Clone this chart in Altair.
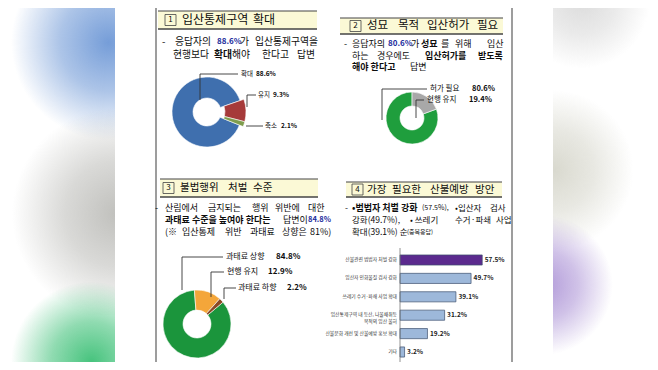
import math
import pandas as pd
import altair as alt

FONT = "Noto Sans CJK KR"

# ---------------- data ----------------
p1_cats = ["확대", "유지", "축소"]
p1_vals = [88.6, 9.3, 2.1]
p2_cats = ["허가 필요", "현행 유지"]
p2_vals = [80.6, 19.4]
p3_cats = ["과태료 상향", "현행 유지", "과태료 하향"]
p3_vals = [84.8, 12.9, 2.2]
p4_cats = [
    "산불관련 범법자 처벌 강화",
    "입산자 인화물질 검사 강화",
    "쓰레기 수거·파쇄 사업 확대",
    "입산통제구역 내 등산, 나물채취등\n목적의 입산 불허",
    "산불문화 개선 및 산불예방 홍보 확대",
    "기타",
]
p4_vals = [57.5, 49.7, 39.1, 31.2, 19.2, 3.2]

# ---------------- styles ----------------
p1_colors = ["#3f6fae", "#a63a3a", "#7f9d4e"]
p2_colors = ["#1f9e3d", "#a8a8a8"]
p3_colors = ["#1b953c", "#f4a63a", "#8a4a25"]
p4_colors = ["#5b2a8e", "#9db8da", "#9db8da", "#9db8da", "#9db8da", "#9db8da"]
BLUE = "#1c2c9c"
INK = "#0d0d0d"

W, H = 642, 354
X = alt.Scale(domain=[8, 8 + W], range=[0, W])
Y = alt.Scale(domain=[8, 8 + H], range=[0, H])


def box(rows, **mark):
    d = pd.DataFrame(rows, columns=["x", "x2", "y", "y2"])
    return alt.Chart(d).mark_rect(**mark).encode(
        x=alt.X("x:Q", scale=X, axis=None), x2="x2:Q",
        y=alt.Y("y:Q", scale=Y, axis=None), y2="y2:Q")


def rule(rows, color="#333", width=0.8):
    d = pd.DataFrame(rows, columns=["x", "y", "x2", "y2"])
    return alt.Chart(d).mark_rule(color=color, strokeWidth=width).encode(
        x=alt.X("x:Q", scale=X, axis=None), x2="x2:Q",
        y=alt.Y("y:Q", scale=Y, axis=None), y2="y2:Q")


def text(rows, size, weight="normal", color=INK, align="left"):
    d = pd.DataFrame(rows, columns=["x", "y", "t"])
    return alt.Chart(d).mark_text(
        font=FONT, fontSize=size, fontWeight=weight, color=color,
        align=align, baseline="middle").encode(
        x=alt.X("x:Q", scale=X, axis=None),
        y=alt.Y("y:Q", scale=Y, axis=None), text="t:N")


def blob(x0, x1, y0, y1, cx, cy, r, rgb, alpha):
    g = alt.RadialGradient(
        gradient="radial",
        stops=[alt.GradientStop(color=f"rgba({rgb},{alpha})", offset=0),
               alt.GradientStop(color=f"rgba({rgb},{alpha * 0.6})", offset=0.5),
               alt.GradientStop(color=f"rgba({rgb},0)", offset=1)],
        x1=cx, y1=cy, r1=0, x2=cx, y2=cy, r2=r)
    return box([(x0, x1, y0, y1)], fill=g, strokeWidth=0)


def donut(cats, vals, colors, cx, cy, r_out, r_in, start_deg, pop=(), shift=0):
    d = pd.DataFrame({"cat": cats, "value": vals, "idx": list(range(len(cats)))})
    a = math.radians(start_deg)
    th = alt.Scale(domain=[0, sum(vals)], range=[a, a + 2 * math.pi])
    base = alt.Chart(d).transform_window(
        cum="sum(value)", sort=[alt.SortField("idx")], frame=[None, 0]
    ).transform_calculate(start="datum.cum - datum.value", cx=str(cx), cy=str(cy))
    enc = dict(
        x=alt.X("cx:Q", scale=X, axis=None), y=alt.Y("cy:Q", scale=Y, axis=None),
        theta=alt.Theta("start:Q", scale=th), theta2="cum:Q",
        color=alt.Color("cat:N", scale=alt.Scale(domain=cats, range=colors), legend=None))
    keep = [c for c in cats if c not in pop]
    out = [base.transform_filter(alt.FieldOneOfPredicate(field="cat", oneOf=keep))
           .mark_arc(radius=r_out, radius2=r_in, stroke="white", strokeWidth=0.6).encode(**enc)]
    if pop:
        out.append(base.transform_filter(alt.FieldOneOfPredicate(field="cat", oneOf=list(pop)))
                   .mark_arc(radius=r_out + shift, radius2=r_in + shift, stroke="white",
                             strokeWidth=0.6).encode(**enc))
    return out


layers = []

# blurred side backgrounds
layers += [
    blob(8, 115, 8, 165, 0.8, 0.22, 0.62, "110,152,214", 0.95),
    blob(8, 115, 90, 315, 0.75, 0.55, 0.47, "185,185,181", 0.9),
    blob(8, 115, 255, 362, 0.78, 1.0, 0.75, "70,195,125", 1.0),
    blob(553, 650, 8, 90, 0.3, 0.0, 0.7, "205,205,205", 0.7),
    blob(553, 650, 90, 250, 0.2, 0.5, 0.5, "210,210,198", 0.85),
    blob(553, 650, 215, 355, 0.08, 0.5, 0.5, "168,142,212", 0.9),
]

# frame
layers.append(box([(156, 512, 5, 363)], fill="white", stroke="#7d7d7d", strokeWidth=1.5))

# title bars
bars_rows = [(158, 317, 11, 29), (340, 503, 18, 34), (160, 318, 179, 197), (346, 502, 182, 197)]
layers.append(box(bars_rows, fill="#fbf9d6", strokeWidth=0))
layers.append(rule([(r[0], r[2], r[1], r[2]) for r in bars_rows], color="#444", width=1))
layers.append(rule([(r[0], r[3], r[1], r[3]) for r in bars_rows], color="#444", width=1.3))
num_boxes = [(165, 176, 14.5, 25.5), (350, 361, 20.5, 31.5), (163, 174, 182.5, 193.5), (352, 363, 184, 195)]
layers.append(box(num_boxes, filled=False, color="#444", strokeWidth=0.8))
layers.append(text([(170.5, 20, "1"), (355.5, 26, "2"), (168.5, 188, "3"), (357.5, 189.5, "4")],
                   8, align="center"))
layers.append(text([(182, 20, "입산통제구역"), (253, 20, "확대")], 12))
layers.append(text([(367, 26, "성묘"), (398, 26, "목적"), (427, 26, "입산허가"), (477, 26, "필요")], 11.5))
layers.append(text([(180, 188, "불법행위"), (228, 188, "처벌"), (253, 188, "수준"),
                    (367, 189.5, "가장"), (392, 189.5, "필요한"), (430, 189.5, "산불예방"),
                    (475, 189.5, "방안")], 10.5))

# body texts
layers.append(text([(162, 41.5, "-"), (175, 41.5, "응답자의"), (240, 41.5, "가"), (255, 41.5, "입산통제구역을"),
                    (173, 55, "현행보다"), (232, 55, "해야"), (262, 55, "한다고"), (297, 55, "답변")], 9.8))
layers.append(text([(214, 55, "확대")], 9.8, "bold"))
layers.append(text([(344, 44, "-"), (352, 44, "응답자의"), (411, 44, "가"), (441, 44, "를"),
                    (455, 44, "위해"), (487, 44, "입산"), (352, 55.5, "하는"), (377, 55.5, "경우에도"),
                    (410, 67, "답변"),
                    (155, 207.5, "-"), (165, 207.5, "산림에서"), (208, 207.5, "금지되는"), (252, 207.5, "행위"),
                    (275, 207.5, "위반에"), (308, 207.5, "대한"), (283, 219.5, "답변이"),
                    (165, 231.5, "(※"), (182, 231.5, "입산통제"), (225, 231.5, "위반"), (250, 231.5, "과태료"),
                    (282, 231.5, "상향은"), (310, 231.5, "81%)")], 9))
layers.append(text([(421, 44, "성묘"), (425, 55.5, "입산허가를"), (478, 55.5, "받도록"),
                    (352, 67, "해야 한다고"), (165, 219.5, "과태료 수준을 높여야 한다는")], 9, "bold"))
layers.append(text([(217, 41.5, "88.6%"), (388, 44, "80.6%")], 8, "bold", BLUE))
layers.append(text([(308, 219.5, "84.8%")], 7.5, "bold", BLUE))
layers.append(text([(345, 207.5, "-"), (455, 207.5, "•입산자"), (490, 207.5, "검사"),
                    (352, 219.5, "강화(49.7%),"), (410, 219.5, "• 쓰레기"), (455, 219.5, "수거·파쇄"),
                    (496, 219.5, "사업"), (352, 231.5, "확대(39.1%) 순")], 8.5))
layers.append(text([(352, 207.5, "•범법자 처벌 강화")], 9, "bold"))
layers.append(text([(422, 207.5, "(57.5%),")], 7))
layers.append(text([(407, 232, "(중복응답)")], 6))

# donuts
layers += donut(p1_cats, p1_vals, p1_colors, 207, 112, 35, 14, 112, pop=("유지", "축소"), shift=4)
layers += donut(p2_cats, p2_vals, p2_colors, 412, 118, 26, 12, 70)
layers += donut(p3_cats, p3_vals, p3_colors, 197, 324, 34, 14, 50)

# leader lines
layers.append(rule([
    (200, 100, 200, 74), (200, 74, 238, 74), (247, 107, 247, 95), (247, 95, 256, 95), (246, 126, 263, 126),
    (382, 120, 382, 89), (382, 89, 427, 89), (416, 118, 416, 100), (416, 100, 424, 100),
    (182, 290, 182, 257), (182, 257, 223, 257), (211, 297, 211, 272), (211, 272, 224, 272),
    (224, 299, 224, 288), (224, 288, 236, 288)], color="#333", width=0.9))

# donut labels
layers.append(text([(241, 74, "확대"), (258, 95, "유지"), (265, 126, "축소")], 6.5))
layers.append(text([(256, 74, "88.6%"), (273, 95, "9.3%"), (281, 126, "2.1%")], 6.5, "bold"))
layers.append(text([(430, 89, "허가 필요"), (427, 100, "현행 유지")], 7.5))
layers.append(text([(472, 89, "80.6%"), (469, 100, "19.4%")], 7.5, "bold"))
layers.append(text([(226, 257, "과태료 상향"), (227, 272, "현행 유지"), (238, 288, "과태료 하향")], 8))
layers.append(text([(276, 257, "84.8%"), (268, 272, "12.9%"), (287, 288, "2.2%")], 8, "bold"))

# bar chart (panel 4)
step = 18.4
bx = alt.Scale(domain=[0, 100], range=[400 - 8, 400 - 8 + 143])
by = alt.Scale(domain=p4_cats, range=[260 - step / 2 - 8, 352 + step / 2 - 8],
               paddingInner=0.45, paddingOuter=0.225)
bar_df = pd.DataFrame({"cat": p4_cats, "value": p4_vals})
bar_base = alt.Chart(bar_df).encode(y=alt.Y("cat:N", scale=by, axis=None, sort=None))
layers.append(bar_base.mark_bar(stroke="#3e506f", strokeWidth=0.7).encode(
    x=alt.X("value:Q", scale=bx, axis=None),
    color=alt.Color("cat:N", scale=alt.Scale(domain=p4_cats, range=p4_colors), legend=None)))
layers.append(bar_base.transform_calculate(lbl="format(datum.value, '.1f') + '%'").mark_text(
    align="left", dx=2.5, font=FONT, fontSize=6.5, fontWeight="bold", color="#222",
    baseline="middle").encode(x=alt.X("value:Q", scale=bx, axis=None), text="lbl:N"))
layers.append(bar_base.transform_calculate(zero="0").mark_text(
    align="right", dx=-3, font=FONT, fontSize=4.8, color="#333", lineBreak="\n",
    baseline="middle").encode(x=alt.X("zero:Q", scale=bx, axis=None), text="cat:N"))
layers.append(alt.Chart(pd.DataFrame({"zero": [0]})).mark_rule(color="#777", strokeWidth=0.8).encode(
    x=alt.X("zero:Q", scale=bx, axis=None), y=alt.value(248 - 8), y2=alt.value(362 - 8)))

chart = alt.layer(*layers).resolve_scale(
    x="independent", y="independent", theta="independent", color="independent"
).properties(
    width=W, height=H, padding=0, autosize=alt.AutoSizeParams(type="none"), background="white"
).configure_view(stroke=None)

chart.save("out.html", embed_options={"renderer": "svg", "actions": False})
